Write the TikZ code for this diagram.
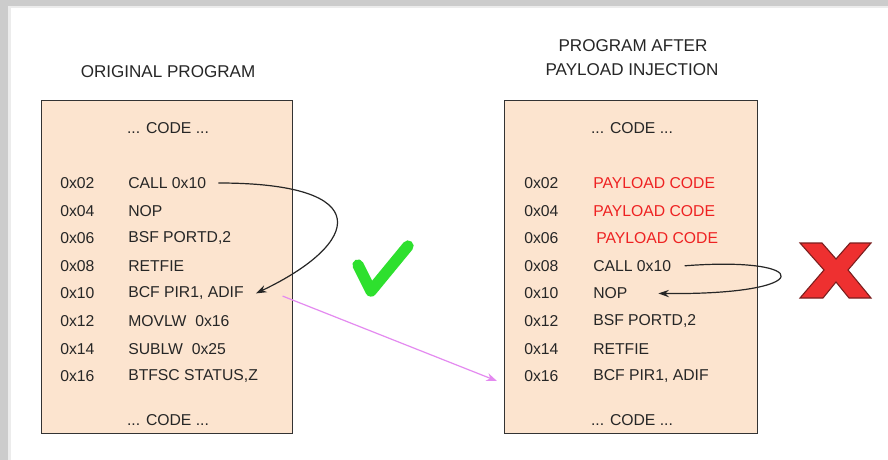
\documentclass[tikz,border=0pt]{standalone}
\usepackage{fontspec}
\setmainfont{Liberation Sans}
\usetikzlibrary{arrows.meta}
\definecolor{peach}{HTML}{FCE4CF}
\definecolor{payred}{HTML}{EE2222}
\definecolor{pinkarr}{HTML}{E48AF0}
\definecolor{checkgreen}{HTML}{2EE02E}
\definecolor{xred}{HTML}{EE3030}
\definecolor{xdark}{HTML}{7A1E1E}
\begin{document}
\begin{tikzpicture}[x=0.75pt,y=-0.75pt,
  codetxt/.style={anchor=west, font=\fontsize{11.8}{13}\selectfont, inner sep=0pt, text=black!85},
  midtxt/.style={anchor=center, font=\fontsize{11.8}{13}\selectfont, inner sep=0pt, text=black!85},
  titletxt/.style={anchor=center, font=\fontsize{12.8}{14}\selectfont, inner sep=0pt, text=black!85},
  progbox/.style={draw=black!80, fill=peach, line width=0.9pt, anchor=north west, inner sep=0pt},
  jump/.style={draw=black!85, line width=0.9pt, -{Stealth[length=8pt,width=5.5pt]}},
  pinkline/.style={draw=pinkarr, line width=0.9pt, -{Stealth[length=8pt,width=6pt]}}]
\useasboundingbox (0,0) rectangle (888,460);
% screenshot frame
\fill[gray!40] (0,0) rectangle (888,460);
\fill[gray!15] (8,6) rectangle (888,460);
\fill[white] (11,8) rectangle (888,460);
% titles
\node[titletxt] (t1) at (168,72) {ORIGINAL PROGRAM};
\node[titletxt] (t2) at (633,46) {PROGRAM AFTER};
\node[titletxt] (t3) at (632,70) {PAYLOAD INJECTION};
% boxes
\node[progbox, minimum width=188.25pt, minimum height=249.75pt] (L) at (41,100) {};
\node[progbox, minimum width=189.75pt, minimum height=249.75pt] (R) at (504,100) {};
\node[midtxt] (lc1) at (168,128) {... CODE ...};
\node[midtxt] (lc2) at (168,420) {... CODE ...};
\node[midtxt] (rc1) at (632,128) {... CODE ...};
\node[midtxt] (rc2) at (632,420) {... CODE ...};
% left rows
\foreach \i/\a/\t in {1/0x02/CALL 0x10, 2/0x04/NOP, 3/0x06/{BSF PORTD,2}, 4/0x08/RETFIE,
    5/0x10/{BCF PIR1, ADIF}, 6/0x12/{MOVLW\ \ 0x16}, 7/0x14/{SUBLW\ \ 0x25}, 8/0x16/{BTFSC STATUS,Z}}{
  \node[codetxt] (la\i) at (60,{183+(\i-1)*27.6}) {\a};
  \node[codetxt] (li\i) at (128,{183+(\i-1)*27.6}) {\t};
}
% right rows
\foreach \i/\a in {1/0x02, 2/0x04, 3/0x06, 4/0x08, 5/0x10, 6/0x12, 7/0x14, 8/0x16}{
  \node[codetxt] (ra\i) at (524,{183+(\i-1)*27.6}) {\a};
}
\node[codetxt, text=payred] (ri1) at (593,183) {PAYLOAD CODE};
\node[codetxt, text=payred] (ri2) at (593,210.6) {PAYLOAD CODE};
\node[codetxt, text=payred] (ri3) at (596,238.2) {PAYLOAD CODE};
\node[codetxt] (ri4) at (593,265.8) {CALL 0x10};
\node[codetxt] (ri5) at (593,293.4) {NOP};
\node[codetxt] (ri6) at (593,321) {BSF PORTD,2};
\node[codetxt] (ri7) at (593,348.6) {RETFIE};
\node[codetxt] (ri8) at (593,376.2) {BCF PIR1, ADIF};
% jumps
\draw[jump] ([xshift=9pt]li1.east) .. controls +(160,0) and +(105,-50) .. ([xshift=9pt]li5.east);
\draw[jump] ([xshift=10pt]ri4.east) .. controls +(130,-10) and +(160,2) .. ([xshift=23pt]ri5.east);
% pink arrow
\coordinate (pinkend) at (497,381);
\draw[pinkline] ([xshift=29pt,yshift=-2pt]li5.east) -- (pinkend);
% check mark
\draw[checkgreen, line width=8.5pt, line cap=round, line join=round] (358,265) -- (371,291) -- (408,246);
% red X
\filldraw[fill=xred, draw=xdark, line width=0.8pt]
  (800,243) -- (822,243) -- (836,259) -- (850,243) -- (871,243) -- (848,270) -- (871,298)
  -- (849,298) -- (836,282) -- (823,298) -- (800,298) -- (824,270) -- cycle;
\end{tikzpicture}
\end{document}
